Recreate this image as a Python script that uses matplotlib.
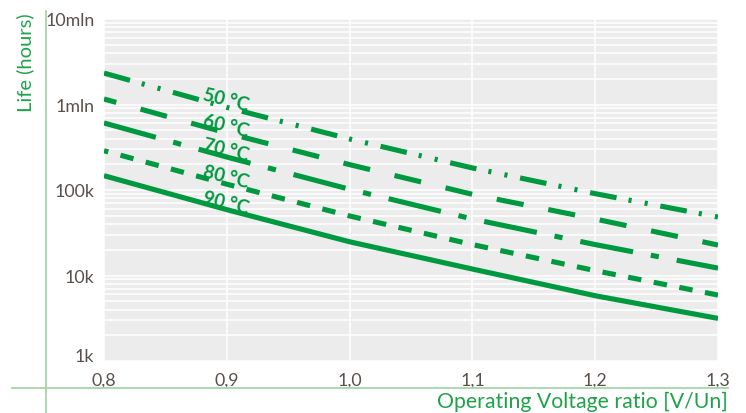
import matplotlib
matplotlib.use("Agg")
import matplotlib.pyplot as plt
from matplotlib.lines import Line2D
from matplotlib.ticker import FixedLocator, NullFormatter

plt.rcParams['font.family'] = ['Lato', 'DejaVu Sans']
plt.rcParams['lines.scale_dashes'] = False

# Operating voltage ratio (V/Un)
voltage_ratio = [0.8, 0.9, 1.0, 1.1, 1.2, 1.3]

# Expected life in hours at each temperature
life_50 = [2330000, 925000, 395000, 181000, 90600, 48300]
life_60 = [1160000, 464000, 198000, 89000, 45800, 22700]
life_70 = [608000, 243000, 102000, 45800, 23000, 12200]
life_80 = [288000, 117000, 49700, 23000, 11400, 5900]
life_90 = [147000, 58900, 24800, 11900, 5800, 3150]

temp_labels = ['50 °C', '60 °C', '70 °C', '80 °C', '90 °C']

y_ticks = [1e3, 1e4, 1e5, 1e6, 1e7]
y_tick_labels = ['1k', '10k', '100k', '1mln', '10mln']
x_ticks = [0.8, 0.9, 1.0, 1.1, 1.2, 1.3]
x_tick_labels = ['0,8', '0,9', '1,0', '1,1', '1,2', '1,3']

GREEN = '#00993f'
AXIS_GREEN = '#a3d6a8'
TEXT_GREEN = '#1ea34a'
TICK_COLOR = '#5a504b'
BG = '#ececec'

fig = plt.figure(figsize=(7.46, 4.14), dpi=100)
ax = fig.add_axes([104 / 746, 52 / 414, 614 / 746, 342 / 414])
ax.set_facecolor(BG)
for s in ax.spines.values():
    s.set_visible(False)

ax.set_yscale('log')
ax.set_xlim(0.8, 1.3)
ax.set_ylim(1e3, 1e7)

# grid: vertical at every 0.1, horizontal at decades and their subdivisions
minor_y = [m * 10 ** e for e in range(3, 7) for m in range(2, 10)]
ax.yaxis.set_major_locator(FixedLocator(y_ticks))
ax.yaxis.set_minor_locator(FixedLocator(minor_y))
ax.yaxis.set_minor_formatter(NullFormatter())
ax.set_yticks(y_ticks)
ax.set_yticklabels(y_tick_labels)
ax.set_xticks(x_ticks)
ax.set_xticklabels(x_tick_labels)
ax.tick_params(axis='both', which='both', length=0, labelsize=12.8,
               labelcolor=TICK_COLOR)
ax.tick_params(axis='y', pad=7)
ax.tick_params(axis='x', pad=8)
ax.grid(True, which='both', axis='y', color='white', lw=1.1)
ax.grid(True, which='major', axis='x', color='white', lw=1.1)
ax.set_axisbelow(True)

labs = ax.get_yticklabels()
labs[0].set_va('baseline')

lw = 3.7
ax.plot(voltage_ratio, life_50, color=GREEN, lw=lw,
        linestyle=(0, (19.4, 8.8, 2.2, 9.6, 2.2, 9.3)), dash_capstyle='butt')
ax.plot(voltage_ratio, life_60, color=GREEN, lw=lw,
        linestyle=(10.5, (19.7, 18.1)), dash_capstyle='butt')
ax.plot(voltage_ratio, life_70, color=GREEN, lw=lw,
        linestyle=(0, (38.7, 13.0, 5.9, 13.1)), dash_capstyle='butt')
ax.plot(voltage_ratio, life_80, color=GREEN, lw=lw,
        linestyle=(6.5, (9.7, 9.1)), dash_capstyle='butt')
ax.plot(voltage_ratio, life_90, color=GREEN, lw=lw,
        solid_capstyle='butt', solid_joinstyle='round')

# temperature labels
label_y = [0.764, 0.688, 0.620, 0.539, 0.464]
for txt, yy in zip(temp_labels, label_y):
    ax.text(0.199, yy, txt, transform=ax.transAxes, color=GREEN,
            fontsize=13.5, fontweight='bold', rotation=-14,
            ha='center', va='center', rotation_mode='anchor')

# outer axis lines
fig.add_artist(Line2D([45.5 / 746, 45.5 / 746], [0, 402 / 414],
                      transform=fig.transFigure, color=AXIS_GREEN, lw=1.3))
fig.add_artist(Line2D([12 / 746, 728 / 746], [25 / 414, 25 / 414],
                      transform=fig.transFigure, color=AXIS_GREEN, lw=1.3))

fig.text(25 / 746, 1 - 13 / 414, 'Life (hours)', rotation=90, color=TEXT_GREEN,
         fontsize=14.5, ha='center', va='top')
fig.text(728 / 746, 5.5 / 414, 'Operating Voltage ratio [V/Un]', color=TEXT_GREEN,
         fontsize=15.3, ha='right', va='baseline')

fig.savefig('out.png', dpi=100)
